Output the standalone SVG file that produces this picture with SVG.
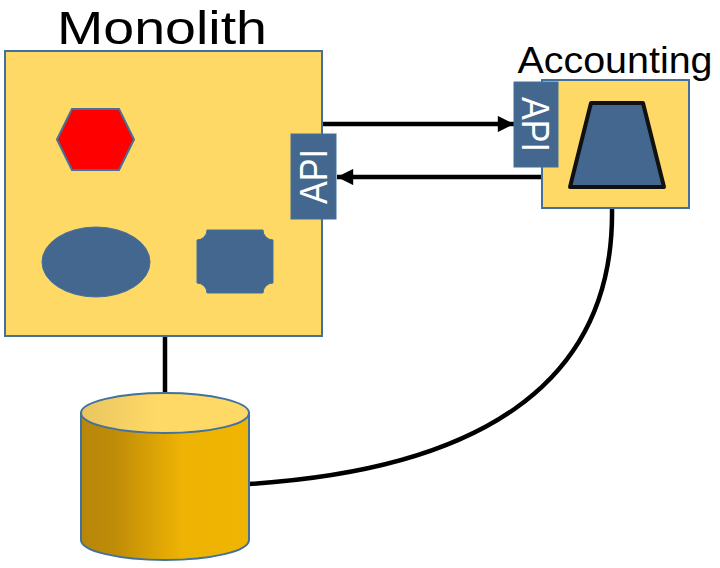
<svg xmlns="http://www.w3.org/2000/svg" width="720" height="568" viewBox="0 0 720 568">
<style>
.box{fill:#FFD966;stroke:#41719C;stroke-width:2}
.blue{fill:#44678F;stroke:#41719C;stroke-width:1}
.lbl{font-family:"Liberation Sans",Arial,sans-serif;fill:#000}
.api{font-family:"Liberation Sans",Arial,sans-serif;fill:#fff;font-size:38px}
.conn{fill:none;stroke:#000;stroke-width:4.5}
</style>
<defs>
<marker id="ah" viewBox="0 0 10 10" refX="10" refY="5" markerWidth="4" markerHeight="3.6" orient="auto" markerUnits="strokeWidth">
<path d="M0,0 L10,5 L0,10 z" fill="#000"/>
</marker>
<linearGradient id="cyl" x1="0" y1="0" x2="1" y2="0">
<stop offset="0" stop-color="#B8870A"/>
<stop offset="0.2" stop-color="#BF8C08"/>
<stop offset="0.6" stop-color="#EEB304"/>
<stop offset="1" stop-color="#F0B400"/>
</linearGradient>
<linearGradient id="cyltop" x1="0" y1="0" x2="1" y2="0">
<stop offset="0" stop-color="#E8C560"/>
<stop offset="0.45" stop-color="#FFD966"/>
<stop offset="1" stop-color="#FFD966"/>
</linearGradient>
</defs>
<g id="connectors">
<line class="conn" x1="165" y1="336" x2="165" y2="394"/>
<line class="conn" x1="322" y1="124" x2="514" y2="124" marker-end="url(#ah)"/>
<line class="conn" x1="542" y1="177" x2="337" y2="177" marker-end="url(#ah)"/>
<path class="conn" d="M612,208 C615,390 470,470 249,484"/>
</g>
<g id="monolith">
<text class="lbl" x="162" y="44" font-size="47" text-anchor="middle" textLength="210" lengthAdjust="spacingAndGlyphs">Monolith</text>
<rect class="box" x="5" y="51" width="317" height="285"/>
<polygon points="57,139.5 72,109 119,109 134,139.5 119,170 72,170" fill="#FF0000" stroke="#41719C" stroke-width="2"/>
<ellipse class="blue" cx="96" cy="262" rx="54" ry="35"/>
<path class="blue" d="M207,230 H263 A10,10 0 0 0 273,240 V283 A10,10 0 0 0 263,293 H207 A10,10 0 0 0 197,283 V240 A10,10 0 0 0 207,230 Z"/>
</g>
<g id="monolith-api">
<rect class="blue" x="291" y="134" width="45" height="85"/>
<text class="api" transform="translate(327,176.5) rotate(-90)" text-anchor="middle" textLength="55" lengthAdjust="spacingAndGlyphs">API</text>
</g>
<g id="accounting">
<text class="lbl" x="615" y="73" font-size="36" text-anchor="middle" textLength="195" lengthAdjust="spacingAndGlyphs">Accounting</text>
<rect class="box" x="542" y="80" width="147" height="128"/>
<polygon points="591,103 643,103 664,187 570,187" fill="#44678F" stroke="#111" stroke-width="4" stroke-linejoin="round"/>
</g>
<g id="accounting-api">
<rect class="blue" x="514" y="82" width="44" height="85"/>
<text class="api" transform="translate(522,124.5) rotate(90)" text-anchor="middle" textLength="55" lengthAdjust="spacingAndGlyphs">API</text>
</g>
<g id="database">
<path d="M81,413 V540 A84,20 0 0 0 249,540 V413 Z" fill="url(#cyl)" stroke="#41719C" stroke-width="2"/>
<ellipse cx="165" cy="413" rx="84" ry="20" fill="url(#cyltop)" stroke="#41719C" stroke-width="2"/>
</g>
</svg>
